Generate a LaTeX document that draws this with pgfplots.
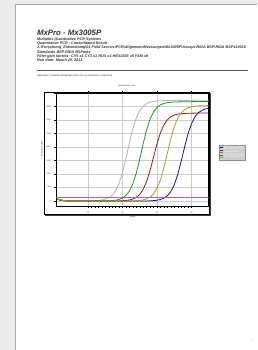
\documentclass[border=0pt]{standalone}
\usepackage{pgfplots}
\pgfplotsset{compat=1.18}
\usepackage{fontspec}
\setmainfont{Liberation Sans}
\definecolor{bggray}{HTML}{EBEBEB}
\definecolor{pgborder}{HTML}{A8A8A8}
\definecolor{cgray}{HTML}{B4B4B4}
\definecolor{cgreen}{HTML}{1A9A1A}
\definecolor{cred}{HTML}{A01818}
\definecolor{colive}{HTML}{A8A218}
\definecolor{cblue}{HTML}{14148C}
\definecolor{cmag}{HTML}{B45AB4}
\definecolor{txt}{HTML}{303030}
\begin{document}
\begin{tikzpicture}
\fill[bggray] (0pt,0pt) rectangle (257pt,350pt);
\fill[white] (15pt,0pt) rectangle (257pt,346pt);
\draw[pgborder, line width=0.9pt] (15pt,0pt) -- (15pt,346pt) -- (257pt,346pt);
\node[anchor=base west, inner sep=0pt, text=txt, font=\fontsize{7.8}{8}\selectfont\bfseries\itshape] at (37pt,314.5pt) {MxPro - Mx3005P};
\begin{scope}[every node/.style={anchor=base west, inner sep=0pt, text=txt, font=\fontsize{3.75}{4}\selectfont\bfseries\itshape}]
\node at (37pt,309.7pt) {Multiplex Quantitative PCR Systems};
\node at (37pt,305.4pt) {Quantitative PCR - Consolidated Result};
\node at (37pt,301.1pt) {X:\textbackslash Forschung\_Entwicklung\textbackslash 01 Field Service\textbackslash PCR\textbackslash Allgemein\textbackslash Messungen\textbackslash Mx3005P\textbackslash Assays\textbackslash RIDA BSP\textbackslash RIDA BSP130320};
\node at (37pt,296.8pt) {Standards BSP RIDA BSPmax};
\node at (37pt,292.5pt) {Filter gain factors: CY5 x1 CY3 x1 ROX x1 HEX/JOE x8 FAM x8};
\node at (37pt,288.2pt) {Run date: March 20, 2013};
\end{scope}
\draw[black!65, line width=1.2pt] (37pt,279.3pt) -- (248pt,279.3pt);
\node[anchor=base west, inner sep=0pt, text=txt, font=\fontsize{2.5}{2.8}\selectfont] at (37pt,273.7pt) {Replicates: Treated individually (there are no replicates in selection)};
\node[inner sep=0pt, text=txt, font=\fontsize{2.1}{2.5}\selectfont] at (127pt,264pt) {Amplification Plots};
% frame
\fill[black!75] (45.5pt,133.8pt) rectangle (211.3pt,256.8pt);
\fill[white] (44.3pt,135pt) rectangle (210pt,258pt);
\draw[black, line width=0.6pt] (44.3pt,135pt) rectangle (210pt,258pt);
\begin{axis}[
  at={(56pt,143pt)}, anchor=south west,
  width=153pt, height=114pt, scale only axis,
  xmin=0.7, xmax=45, ymin=-220, ymax=4000,
  xtick={10,20,30,40}, minor x tick num=9,
  ytick={0,500,1000,1500,2000,2500,3000,3500,4000},
  /pgf/number format/assume math mode=true,
  /pgf/number format/1000 sep={},
  grid=major, major grid style={black!20, line width=0.4pt},
  axis line style={black, line width=0.6pt},
  tick style={black, line width=0.3pt},
  major tick length=1.5pt, minor tick length=1pt,
  tick align=outside,
  ticklabel style={font=\fontsize{2}{2.4}\selectfont, text=txt},
  scaled y ticks=false,
  xlabel={Cycles}, ylabel={Fluorescence (dR)},
  label style={font=\fontsize{2}{2.4}\selectfont, text=txt},
  xlabel style={yshift=3.5pt}, ylabel style={yshift=-3.5pt},
  legend style={at={(1.065,0.544)}, anchor=north west, fill=black!20, draw=black!45, line width=0.3pt,
    font=\fontsize{2}{2.1}\selectfont, text=white, inner sep=0.6pt, row sep=-0.9pt,
    nodes={inner sep=0.3pt}},
  legend image code/.code={\draw[#1, line width=0.8pt] (0pt,0pt) -- (3.5pt,0pt);},
  legend cell align=left,
]
\addplot[cgray, line width=0.8pt, forget plot] coordinates {
(1,70)(2,30)(3,10)(4,-5)(5,-10)(8,-10)(11,-2)(12,8)(13,16)(14,32)(15,60)(16,114)(17,209)(18,373)(19,643)(20,1045)(21,1570)(22,2146)(23,2671)(24,3073)(25,3343)(26,3507)(27,3602)(28,3655)(29,3684)(30,3700)(31,3708)(32,3713)(33,3716)(34,3718)(35,3720)(38,3722)(41,3724)(45,3726)};
\addplot[cblue, line width=0.8pt] coordinates {
(1,60)(2,25)(3,6)(4,-5)(5,-10)(27,-10)(28,-1)(29,7)(30,22)(31,49)(32,98)(33,187)(34,340)(35,591)(36,966)(37,1456)(38,1994)(39,2484)(40,2859)(41,3110)(42,3263)(43,3352)(44,3401)(45,3428)};
\addlegendentry{BSP Standard 1 (FAM)}
\addplot[cred, line width=0.8pt] coordinates {
(1,60)(2,25)(3,6)(4,-5)(5,-10)(19,-10)(20,2)(21,12)(22,30)(23,65)(24,127)(25,237)(26,424)(27,716)(28,1126)(29,1620)(30,2114)(31,2524)(32,2816)(33,3003)(34,3113)(35,3175)(36,3210)(37,3228)(38,3238)(39,3244)(40,3248)(45,3258)};
\addlegendentry{BSP Standard 2 (FAM)}
\addplot[cmag, line width=1.1pt] coordinates {(0.7,122)(45,122)};
\addlegendentry{Threshold (FAM)}
\addplot[cgreen, line width=0.8pt] coordinates {
(1,65)(2,28)(3,8)(4,-5)(5,-10)(15,-10)(16,0)(17,8)(18,23)(19,52)(20,104)(21,199)(22,361)(23,628)(24,1026)(25,1545)(26,2115)(27,2635)(28,3032)(29,3299)(30,3461)(31,3556)(32,3608)(33,3637)(34,3652)(35,3660)(36,3665)(40,3675)(45,3682)};
\addlegendentry{BSP Standard 3 (FAM)}
\addplot[colive, line width=0.8pt] coordinates {
(1,80)(2,35)(3,12)(4,-2)(5,-10)(23,-10)(24,3)(25,14)(26,34)(27,71)(28,139)(29,259)(30,461)(31,778)(32,1224)(33,1760)(34,2296)(35,2742)(36,3059)(37,3261)(38,3381)(39,3449)(40,3486)(41,3506)(42,3517)(43,3523)(44,3526)(45,3528)};
\addlegendentry{BSP Standard 4 (FAM)}
\end{axis}
\node[inner sep=0pt, text=black!50, font=\fontsize{2.2}{2.5}\selectfont] at (252pt,9pt) {1};
\end{tikzpicture}
\end{document}
